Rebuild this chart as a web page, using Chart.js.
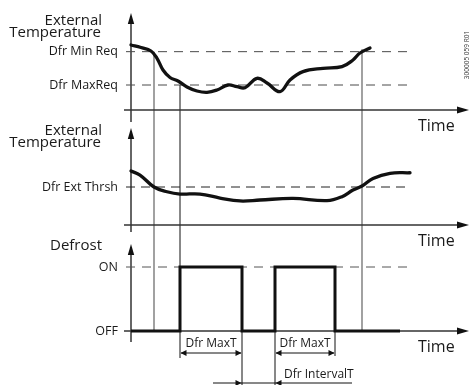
<!DOCTYPE html>
<html>
<head>
<meta charset="utf-8">
<script src="https://cdn.jsdelivr.net/npm/chart.js@4/dist/chart.umd.min.js"></script>
<style>
  html, body { margin: 0; padding: 0; background: #fff; overflow: hidden; }
  #wrap { position: relative; width: 470px; height: 385px; }
</style>
</head>
<body>
<div id="wrap"><canvas id="c" width="470" height="385"></canvas></div>
<script>
// ---- Data (time in minutes from the start of the trace) ----

// Upper trace: external temperature against the two request limits
const reqLevelNames  = ['Dfr Min Req', 'Dfr MaxReq'];
const reqLevelValues = [7, 3];
const temp1Time  = [0, 10, 20, 26, 32, 39, 47, 56, 66, 76, 86, 97, 106, 114, 126, 136, 149, 159, 172, 192, 211, 222, 229, 239];
const temp1Value = [7.8, 7.5, 7.08, 6.2, 4.8, 3.9, 3.48, 2.76, 2.28, 2.12, 2.4, 3.0, 2.8, 2.68, 3.8, 3.24, 2.2, 3.6, 4.6, 5.0, 5.2, 6.0, 6.84, 7.44];

// Middle trace: external temperature against the threshold
const thrLevelNames  = ['Dfr Ext Thrsh'];
const thrLevelValues = [4];
const temp2Time  = [0, 9, 23, 36, 49, 69, 89, 109, 129, 162, 196, 211, 222, 231, 242, 259, 279];
const temp2Value = [5.68, 5.26, 4.0, 3.5, 3.26, 3.26, 2.84, 2.53, 2.63, 2.8, 2.56, 2.98, 3.68, 4.1, 4.9, 5.44, 5.5];

// Lower trace: defrost state
const stateNames  = ['ON', 'OFF'];
const stateValues = [1, 0];
const defrostStarts = [49, 144];
const defrostEnds   = [111, 204];
const traceEnd = 269;

// Instants where the conditions change (vertical guides)
const eventTimes = [23, 49, 231];
const eventTopLevels = [7, 3, 7.3];

// Span of the dashed reference levels
const levelSpan = [-5, 276];

// ---- Build the defrost step series from the start/end times ----
const defrostTime = [0];
const defrostState = [0];
defrostStarts.forEach((s, i) => {
  defrostTime.push(s, s, defrostEnds[i], defrostEnds[i]);
  defrostState.push(0, 1, 1, 0);
});
defrostTime.push(traceEnd);
defrostState.push(0);

const pts = (xs, ys) => xs.map((t, i) => ({ x: t, y: ys[i] }));
const flat = (v) => levelSpan.map(t => ({ x: t, y: v }));

// each panel's value axis is placed by its zero line and pixels per unit
const H = 385;
function band(zeroPx, pxPerUnit) {
  return { min: -(H - zeroPx) / pxPerUnit, max: zeroPx / pxPerUnit };
}

const FONT = '"Open Sans", "Noto Sans", sans-serif';
const BLACK = '#111';

const datasets = [];
reqLevelValues.forEach(v => datasets.push({
  data: flat(v), yAxisID: 'yA', borderColor: '#4a4a4a', borderWidth: 1,
  borderDash: [9, 7], pointRadius: 0, showLine: true, order: 5
}));
thrLevelValues.forEach(v => datasets.push({
  data: flat(v), yAxisID: 'yB', borderColor: '#222', borderWidth: 1,
  borderDash: [9, 6], pointRadius: 0, showLine: true, order: 5
}));
datasets.push({
  data: flat(stateValues[0]), yAxisID: 'yC', borderColor: '#555', borderWidth: 1,
  borderDash: [9, 7], pointRadius: 0, showLine: true, order: 5
});
datasets.push({
  data: pts(temp1Time, temp1Value), yAxisID: 'yA', borderColor: BLACK, borderWidth: 3.3,
  pointRadius: 0, showLine: true, tension: 0.4, order: 1,
  borderCapStyle: 'round', borderJoinStyle: 'round'
});
datasets.push({
  data: pts(temp2Time, temp2Value), yAxisID: 'yB', borderColor: BLACK, borderWidth: 3.3,
  pointRadius: 0, showLine: true, tension: 0.4, order: 1,
  borderCapStyle: 'round', borderJoinStyle: 'round'
});
datasets.push({
  data: pts(defrostTime, defrostState), yAxisID: 'yC', borderColor: BLACK, borderWidth: 3,
  pointRadius: 0, showLine: true, tension: 0, order: 1, borderJoinStyle: 'miter'
});

function line(ctx, x1, y1, x2, y2) {
  ctx.beginPath(); ctx.moveTo(x1, y1); ctx.lineTo(x2, y2); ctx.stroke();
}
function tri(ctx, a, b, c) {
  ctx.beginPath(); ctx.moveTo(a[0], a[1]); ctx.lineTo(b[0], b[1]); ctx.lineTo(c[0], c[1]);
  ctx.closePath(); ctx.fill();
}
function text(ctx, s, x, y, size, align, base) {
  ctx.font = size + 'px ' + FONT;
  ctx.textAlign = align || 'left';
  ctx.textBaseline = base || 'alphabetic';
  ctx.fillText(s, x, y);
}

// axis with arrowheads for one panel
function drawAxes(ctx, xs, ys, topGap, below) {
  const x0 = xs.getPixelForValue(0);
  const y0 = ys.getPixelForValue(0);
  const xStart = xs.getPixelForValue(-7);
  const xTip = xs.getPixelForValue(338);
  const yTip = y0 - topGap;
  ctx.strokeStyle = '#333';
  ctx.fillStyle = '#111';
  ctx.lineWidth = 1.5;
  line(ctx, x0, yTip + 8, x0, y0 + below);
  tri(ctx, [x0, yTip], [x0 - 3.2, yTip + 11], [x0 + 3.2, yTip + 11]);
  line(ctx, xStart, y0, xTip - 8, y0);
  tri(ctx, [xTip, y0], [xTip - 12, y0 - 3.5], [xTip - 12, y0 + 3.5]);
}

// small dimension arrowhead pointing left (dir=-1) or right (dir=1)
function dimHead(ctx, x, y, dir) {
  tri(ctx, [x, y], [x - dir * 6, y - 3], [x - dir * 6, y + 3]);
}

const diagram = {
  id: 'diagram',
  beforeDatasetsDraw(chart) {
    const { ctx, scales: { x, yA, yB, yC } } = chart;
    ctx.save();
    // vertical guides at the switching instants
    const guideColors = ['#8a8a8a', '#111', '#555'];
    const guideWidths = [1.6, 1, 1.1];
    eventTimes.forEach((t, i) => {
      const px = x.getPixelForValue(t);
      ctx.strokeStyle = guideColors[i];
      ctx.lineWidth = guideWidths[i];
      line(ctx, px, yA.getPixelForValue(eventTopLevels[i]), px, yC.getPixelForValue(0));
    });
    drawAxes(ctx, x, yA, 97, 12);
    drawAxes(ctx, x, yB, 97, 7);
    drawAxes(ctx, x, yC, 87, 11);
    ctx.restore();
  },
  afterDatasetsDraw(chart) {
    const { ctx, scales: { x, yA, yB, yC } } = chart;
    ctx.save();
    ctx.fillStyle = '#1a1a1a';
    const x0 = x.getPixelForValue(0);
    const labelX = x0 - 13;

    // panel titles
    text(ctx, 'External', x0 - 29, yA.getPixelForValue(0) - 85, 15, 'right');
    text(ctx, 'Temperature', x0 - 30, yA.getPixelForValue(0) - 73, 15, 'right');
    text(ctx, 'External', x0 - 29, yB.getPixelForValue(0) - 90, 15, 'right');
    text(ctx, 'Temperature', x0 - 30, yB.getPixelForValue(0) - 78, 15, 'right');
    text(ctx, 'Defrost', x0 - 29, yC.getPixelForValue(0) - 81, 15, 'right');

    // level labels
    reqLevelNames.forEach((n, i) => text(ctx, n, labelX, yA.getPixelForValue(reqLevelValues[i]), 12.5, 'right', 'middle'));
    thrLevelNames.forEach((n, i) => text(ctx, n, labelX, yB.getPixelForValue(thrLevelValues[i]), 12.5, 'right', 'middle'));
    stateNames.forEach((n, i) => text(ctx, n, labelX, yC.getPixelForValue(stateValues[i]), 12.5, 'right', 'middle'));

    // time axis labels
    const timeX = x.getPixelForValue(287);
    [yA, yB, yC].forEach(s => text(ctx, 'Time', timeX, s.getPixelForValue(0) + 21, 16, 'left'));

    // dimensions below the defrost trace
    const off = yC.getPixelForValue(0);
    const dimY = off + 22;
    ctx.strokeStyle = '#111';
    ctx.fillStyle = '#111';
    ctx.lineWidth = 1;
    defrostStarts.forEach((s, i) => {
      const a = x.getPixelForValue(s), b = x.getPixelForValue(defrostEnds[i]);
      line(ctx, a, off, a, i === 1 ? H : dimY + 5);
      line(ctx, b, off, b, i === 0 ? H : dimY + 3);
      line(ctx, a + 1, dimY, b - 1, dimY);
      dimHead(ctx, a + 0.5, dimY, -1);
      dimHead(ctx, b - 0.5, dimY, 1);
      ctx.fillStyle = '#1a1a1a';
      text(ctx, 'Dfr MaxT', (a + b) / 2, off + 16, 12, 'center');
      ctx.fillStyle = '#111';
    });
    // interval between the end of one defrost and the start of the next
    const e1 = x.getPixelForValue(defrostEnds[0]);
    const s2 = x.getPixelForValue(defrostStarts[1]);
    const intY = off + 52;
    line(ctx, e1 - 29, intY, s2 + 77, intY);
    dimHead(ctx, e1 - 0.5, intY, 1);
    dimHead(ctx, s2 + 0.5, intY, -1);
    ctx.fillStyle = '#1a1a1a';
    text(ctx, 'Dfr IntervalT', s2 + 9, off + 47, 12, 'left');

    // drawing reference code
    ctx.save();
    ctx.translate(467, 55);
    ctx.rotate(-Math.PI / 2);
    ctx.fillStyle = '#333';
    text(ctx, '300005 059 R01', 0, 0, 6.5, 'center', 'middle');
    ctx.restore();

    ctx.restore();
  }
};

new Chart(document.getElementById('c'), {
  type: 'scatter',
  data: { datasets },
  options: {
    responsive: false,
    animation: false,
    events: [],
    layout: { padding: 0 },
    plugins: { legend: { display: false }, tooltip: { enabled: false } },
    elements: { line: { fill: false } },
    scales: {
      x:  { type: 'linear', min: -131, max: 339, display: false },
      yA: Object.assign({ type: 'linear', display: false }, band(110, 25 / 3)),
      yB: Object.assign({ type: 'linear', display: false }, band(225, 9.5)),
      yC: Object.assign({ type: 'linear', display: false }, band(331, 64))
    }
  },
  plugins: [diagram]
});
</script>
</body>
</html>
